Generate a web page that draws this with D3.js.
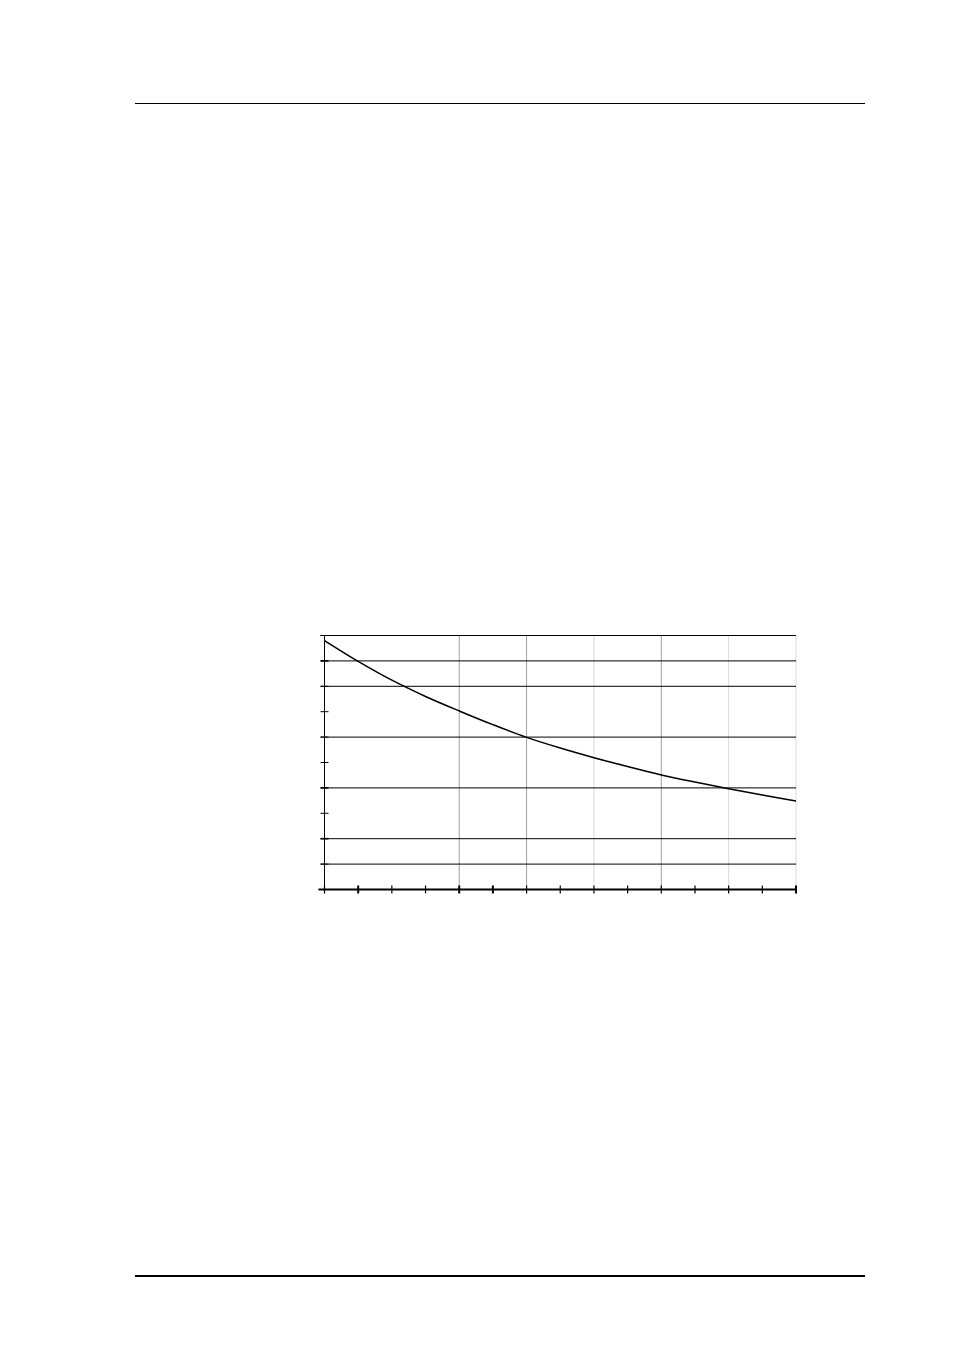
<!DOCTYPE html>
<html>
<head>
<meta charset="utf-8">
<script src="https://cdn.jsdelivr.net/npm/d3@7/dist/d3.min.js"></script>
<style>
  html, body { margin: 0; padding: 0; background: #fff; }
  svg { display: block; }
</style>
</head>
<body>
<script>
// ---- data ----
const xValues = [0, 0.5, 1, 1.5, 2, 2.5, 3, 3.5, 4, 4.5, 5, 5.5, 6, 6.5, 7];
const yValues = [9.8, 8.98, 8.24, 7.6, 7.03, 6.49, 5.99, 5.57, 5.19, 4.84, 4.51, 4.23, 3.97, 3.72, 3.48];
const xTicks = [0, 0.5, 1, 1.5, 2, 2.5, 3, 3.5, 4, 4.5, 5, 5.5, 6, 6.5, 7];
const yTicks = [0, 1, 2, 3, 4, 5, 6, 7, 8, 9, 10];
const hGrid = [1, 2, 4, 6, 8, 9, 10];
const vGridDark = [2, 3, 5];
const vGridLight = [4, 6, 7];

const W = 954, H = 1351;
const svg = d3.select("body").append("svg").attr("width", W).attr("height", H);

// page rules
svg.append("line").attr("x1", 135).attr("x2", 865).attr("y1", 103.5).attr("y2", 103.5)
  .attr("stroke", "#000").attr("stroke-width", 1);
svg.append("line").attr("x1", 135).attr("x2", 865).attr("y1", 1276).attr("y2", 1276)
  .attr("stroke", "#000").attr("stroke-width", 2);

const x = d3.scaleLinear().domain([0, 7]).range([324.5, 796]);
const y = d3.scaleLinear().domain([0, 10]).range([889.5, 635.5]);

const g = svg.append("g");

// vertical grid
g.selectAll(".vl").data(vGridLight).join("line")
  .attr("x1", d => x(d)).attr("x2", d => x(d))
  .attr("y1", y(10)).attr("y2", y(0))
  .attr("stroke", "#d9d9d9").attr("stroke-width", 1);
g.selectAll(".vd").data(vGridDark).join("line")
  .attr("x1", d => x(d)).attr("x2", d => x(d))
  .attr("y1", y(10)).attr("y2", y(0))
  .attr("stroke", "#a0a0a0").attr("stroke-width", 1);

// horizontal grid
g.selectAll(".hg").data(hGrid).join("line")
  .attr("x1", x(0) - 4).attr("x2", x(7))
  .attr("y1", d => y(d)).attr("y2", d => y(d))
  .attr("stroke", "#000").attr("stroke-width", 1);

// left axis
g.append("line").attr("x1", x(0)).attr("x2", x(0))
  .attr("y1", y(10)).attr("y2", y(0) + 4)
  .attr("stroke", "#000").attr("stroke-width", 1);
g.selectAll(".yt").data(yTicks).join("line")
  .attr("x1", x(0) - 4).attr("x2", x(0) + 4)
  .attr("y1", d => y(d)).attr("y2", d => y(d))
  .attr("stroke", "#000").attr("stroke-width", d => (d === 9 || d === 4 || d === 2) ? 1.6 : 1);

// bottom axis
g.append("line").attr("x1", x(0) - 6).attr("x2", x(7))
  .attr("y1", y(0)).attr("y2", y(0))
  .attr("stroke", "#000").attr("stroke-width", 2);
g.selectAll(".xt").data(xTicks).join("line")
  .attr("x1", d => x(d)).attr("x2", d => x(d))
  .attr("y1", y(0) - 4).attr("y2", y(0) + 4)
  .attr("stroke", "#000").attr("stroke-width", d => (d === 0.5 || d === 2 || d === 2.5 || d === 7) ? 2 : 1.2);

// curve
const pts = xValues.map((v, i) => [v, yValues[i]]);
g.append("path").datum(pts)
  .attr("fill", "none").attr("stroke", "#000").attr("stroke-width", 1.5)
  .attr("d", d3.line().x(d => x(d[0])).y(d => y(d[1])).curve(d3.curveCatmullRom));
</script>
</body>
</html>
